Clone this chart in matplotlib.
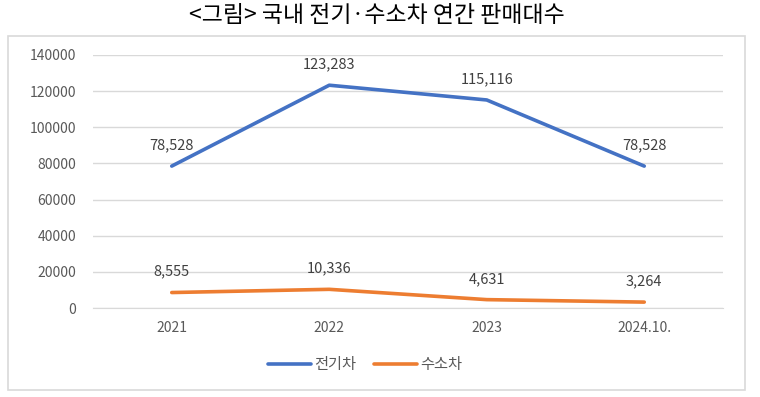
import matplotlib
matplotlib.use("Agg")
import matplotlib.pyplot as plt
from matplotlib.patches import Rectangle

plt.rcParams['font.family'] = ['Noto Sans CJK KR', 'DejaVu Sans']

categories = ["2021", "2022", "2023", "2024.10."]
ev = [78528, 123283, 115116, 78528]
fcev = [8555, 10336, 4631, 3264]
yticks = [0, 20000, 40000, 60000, 80000, 100000, 120000, 140000]
title = "<그림> 국내 전기·수소차 연간 판매대수"
names = ["전기차", "수소차"]

W, H = 760, 397
fig = plt.figure(figsize=(W/100, H/100), dpi=100)
fig.patch.set_facecolor("white")

fig.patches.append(Rectangle((8/W, 1-390/H), (745-8)/W, (390-36)/H,
                             transform=fig.transFigure, fill=False,
                             edgecolor="#d9d9d9", linewidth=1.2))

fig.text(377/W, 1-15/H, title, ha="center", va="center", fontsize=16.5,
         color="black", family=['Noto Sans CJK KR', 'DejaVu Sans'])

ax = fig.add_axes([93/W, 1-308/H, (723-93)/W, (308-55)/H])
x = list(range(len(categories)))
blue = "#4472C4"
orange = "#ED7D31"
ax.plot(x, ev, color=blue, linewidth=2.6, solid_capstyle="round", label=names[0])
ax.plot(x, fcev, color=orange, linewidth=2.6, solid_capstyle="round", label=names[1])

for xi, v in zip(x, ev):
    ax.annotate(f"{v:,}", (xi, v), xytext=(0, 15), textcoords="offset points",
                ha="center", va="center", fontsize=10.5, color="#404040")
for xi, v in zip(x, fcev):
    ax.annotate(f"{v:,}", (xi, v), xytext=(0, 15), textcoords="offset points",
                ha="center", va="center", fontsize=10.5, color="#404040")

ax.set_xlim(-0.5, len(categories)-0.5)
ax.set_ylim(0, 140000)
ax.set_yticks(yticks)
ax.set_yticklabels([str(t) for t in yticks])
ax.set_xticks(x)
ax.set_xticklabels(categories)
ax.grid(axis="y", color="#d9d9d9", linewidth=1)
ax.set_axisbelow(True)
for s in ["top", "right", "left"]:
    ax.spines[s].set_visible(False)
ax.spines["bottom"].set_color("#d9d9d9")
ax.tick_params(axis="both", length=0, labelsize=10, labelcolor="#595959")
ax.tick_params(axis="y", pad=12)
ax.tick_params(axis="x", pad=9)

fig.legend(loc="center", bbox_to_anchor=(365/W, 1-365/H), ncol=2, frameon=False,
           fontsize=11, handlelength=2.8, handletextpad=0.2, columnspacing=1.2,
           labelcolor="#595959")

fig.savefig("out.png", dpi=100)
